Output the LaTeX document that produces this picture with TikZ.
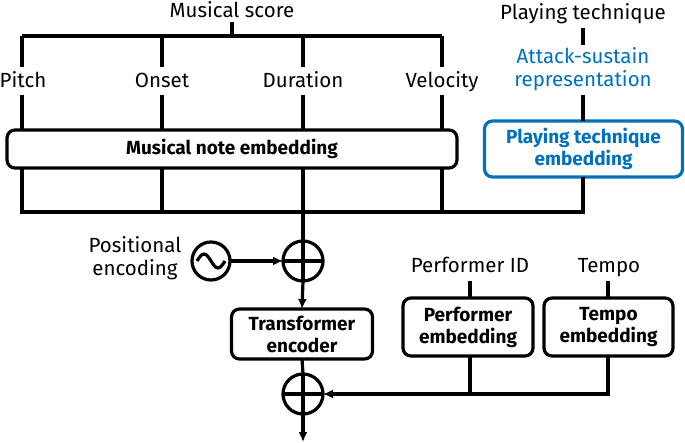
\documentclass[tikz,border=0pt]{standalone}
\usepackage{fontspec}
\setmainfont{Fira Sans}
\usetikzlibrary{arrows.meta,calc}
\definecolor{ptblue}{RGB}{0,112,188}
\begin{document}
\begin{tikzpicture}[x=1pt,y=-1pt,
  every node/.style={inner sep=0pt,outer sep=0pt},
  lbl/.style={font=\fontsize{20.5}{23}\selectfont,align=center},
  lblb/.style={font=\fontsize{20.5}{23}\selectfont,anchor=base},
  box/.style={draw,line width=3.2pt,rounded corners=8pt,font=\fontsize{19}{22}\selectfont\bfseries,align=center},
  wire/.style={line width=3.2pt},
  arr/.style={line width=3.2pt,-{Latex[length=10pt,width=9pt]}},
  ring/.style={draw,circle,line width=3.2pt,minimum size=#1}
]
\useasboundingbox (0,0) rectangle (685,443);
% top musical score
\node[lblb] (score) at (232,18) {Musical score};
\coordinate (tb) at (232,36);
\coordinate (tl) at (22,36);
\coordinate (tr) at (442,36);
\node[lblb] (pitch) at (23,88) {Pitch};
\node[lblb] (onset) at (162,88) {Onset};
\node[lblb] (dur) at (303,88) {Duration};
\node[lblb] (vel) at (442,88) {Velocity};
\draw[wire] (232,22) -- (tb);
\draw[wire] (tl) -- (tr);
\draw[wire] (tl) -- (22,67);
\draw[wire] (162,36) -- (162,67);
\draw[wire] (303,36) -- (303,67);
\draw[wire] (tr) -- (442,67);
\node[box,minimum width=450pt,minimum height=38pt] (mne) at (232,149) {Musical note embedding};
\coordinate (pl) at (22,95);
\coordinate (ol) at (162,95);
\coordinate (dl) at (303,95);
\coordinate (vl) at (442,95);
\draw[wire] (pl) -- (pl|-mne.north);
\draw[wire] (ol) -- (ol|-mne.north);
\draw[wire] (dl) -- (dl|-mne.north);
\draw[wire] (vl) -- (vl|-mne.north);
% playing technique
\node[lblb] (pt) at (583,20) {Playing technique};
\node[lbl,text=ptblue] (asr) at (583,69) {Attack-sustain\\representation};
\node[box,draw=ptblue,text=ptblue,minimum width=198pt,minimum height=56pt] (pte) at (583.5,149) {Playing technique\\embedding};
\draw[wire] (583,28) -- (583,45);
\draw[wire] (583,95) -- (pte.north-|583,0);
% bottom bar
\coordinate (bl) at (22,212);
\coordinate (br) at (583,212);
\draw[wire] (pl|-mne.south) -- (bl) -- (br) -- (br|-pte.south);
\draw[wire] (ol|-mne.south) -- (162,212);
\draw[wire] (vl|-mne.south) -- (442,212);
% adder 1
\node[ring=40pt] (add1) at (303,261) {};
\draw[wire] (add1.north) -- (add1.south) (add1.west) -- (add1.east);
\draw[wire] (dl|-mne.south) -- (add1.north);
% positional encoding
\node[ring=38pt] (pe) at (211,261) {};
\draw[wire] (197,261) sin (204,254) cos (211,261) sin (218,268) cos (225,261);
\node[lbl] (pet) at (135,258) {Positional\\encoding};
\draw[arr] (pe.east) -- (add1.west);
% transformer
\node[box,minimum width=141pt,minimum height=50pt] (tf) at (302,334) {Transformer\\encoder};
\draw[arr] (add1.south) -- (tf.north);
% adder 2
\node[ring=40pt] (add2) at (303,394) {};
\draw[wire] (add2.north) -- (add2.south) (add2.west) -- (add2.east);
\draw[wire] (tf.south) -- (add2.north);
\coordinate (out) at (303,442);
\draw[arr] (add2.south) -- (out);
% performer & tempo
\node[lblb] (pid) at (470,273) {Performer ID};
\node[lblb] (tempo) at (609,273) {Tempo};
\node[box,minimum width=130pt,minimum height=58pt] (pemb) at (468,327) {Performer\\embedding};
\node[box,minimum width=129pt,minimum height=58pt] (temb) at (608.5,327) {Tempo\\embedding};
\draw[wire] (470,281) -- (470,298);
\draw[wire] (608,281) -- (608,298);
\coordinate (jp) at (470,394);
\coordinate (jt) at (608,394);
\draw[wire] (470,356) -- (jp);
\draw[wire] (608,356) -- (jt) -- (jp);
\draw[arr] (jp) -- (add2.east);
\end{tikzpicture}
\end{document}
